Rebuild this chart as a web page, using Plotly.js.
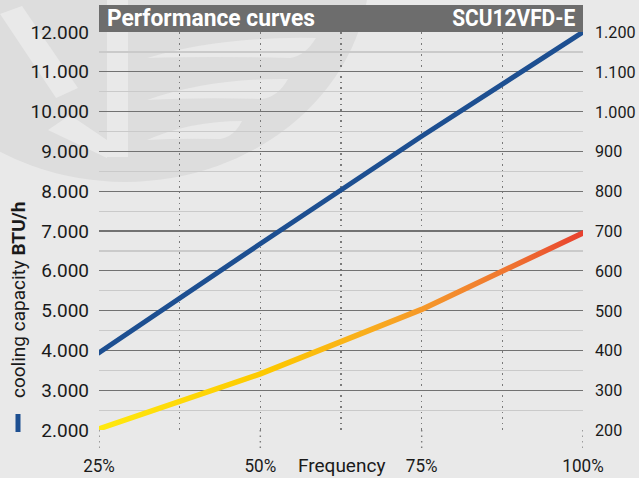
<!DOCTYPE html>
<html>
<head>
<meta charset="utf-8">
<script src="https://cdn.plot.ly/plotly-3.0.1.min.js"></script>
<style>
  html, body { margin: 0; padding: 0; background: #e9e9e9; }
  #chart { width: 639px; height: 478px; }
</style>
</head>
<body>
<div id="chart"></div>
<script>
// ---- data ----
const frequency = [25, 50, 75, 100];
const freqTickLabels = ['25%', '50%', '75%', '100%'];
const coolingCapacity = [3940, 6680, 9380, 12000];   // BTU/h (left axis)
const powerCurve = [203, 341, 503, 695];             // right axis
const leftTickVals = [2000, 3000, 4000, 5000, 6000, 7000, 8000, 9000, 10000, 11000, 12000];
const rightTickVals = [200, 300, 400, 500, 600, 700, 800, 900, 1000, 1100, 1200];
const chartTitle = 'Performance curves';
const modelName = 'SCU12VFD-E';
const xTitle = 'Frequency';
const yTitle = 'cooling capacity <b>BTU/h</b>';

// ---- layout helpers (decoration only) ----
const L = 99, R = 583, T = 32, B = 430;
const W = R - L, H = B - T;
const px = x => (x - L) / W;
const py = y => (B - y) / H;
function pathFrom(pts) {
  return pts.map((p, i) => (i ? 'L' : 'M') + px(p[0]).toFixed(4) + ',' + py(p[1]).toFixed(4)).join(' ') + ' Z';
}
function curvePath(cmds) {
  return cmds.map(c => {
    const out = [c[0]];
    for (let i = 1; i < c.length; i += 2) out.push(px(c[i]).toFixed(4) + ',' + py(c[i + 1]).toFixed(4));
    return out.join(' ');
  }).join(' ');
}

const wmDark = '#dddddd', wmLight = '#e9e9e9';
const shapes = [
  {type: 'circle', xref: 'paper', yref: 'paper', layer: 'below',
   x0: px(-120), x1: px(370), y0: py(182), y1: py(-250),
   fillcolor: wmDark, line: {width: 0}},
  {type: 'path', xref: 'paper', yref: 'paper', layer: 'below',
   path: pathFrom([[0, 14], [22, 6], [78, 88], [56, 98]]), fillcolor: wmLight, line: {width: 0}},
  {type: 'path', xref: 'paper', yref: 'paper', layer: 'below',
   path: pathFrom([[107, 0], [128, 0], [128, 157], [107, 157]]), fillcolor: wmLight, line: {width: 0}},
  {type: 'path', xref: 'paper', yref: 'paper', layer: 'below',
   path: pathFrom([[48, 130], [70, 115], [107, 140], [107, 158]]), fillcolor: wmLight, line: {width: 0}},
  {type: 'path', xref: 'paper', yref: 'paper', layer: 'below',
   path: curvePath([['M', 147, 58], ['Q', 220, 36, 316, 38], ['Q', 305, 56, 290, 58], ['Q', 210, 56, 147, 58], ['Z']]),
   fillcolor: wmLight, line: {width: 0}},
  {type: 'path', xref: 'paper', yref: 'paper', layer: 'below',
   path: curvePath([['M', 147, 100], ['Q', 210, 78, 288, 79], ['Q', 278, 97, 262, 99], ['Q', 200, 97, 147, 100], ['Z']]),
   fillcolor: wmLight, line: {width: 0}},
  {type: 'path', xref: 'paper', yref: 'paper', layer: 'below',
   path: curvePath([['M', 147, 140], ['Q', 190, 121, 242, 121], ['Q', 234, 137, 220, 139], ['Q', 180, 138, 147, 140], ['Z']]),
   fillcolor: wmLight, line: {width: 0}},
  // header bar
  {type: 'rect', xref: 'paper', yref: 'paper', layer: 'below',
   x0: 0, x1: 1, y0: py(32), y1: py(5), fillcolor: '#6d6d6d', line: {width: 0}},
  // legend-like marker next to y title
  {type: 'line', xref: 'paper', yref: 'paper', layer: 'above',
   x0: px(18), x1: px(18), y0: py(414), y1: py(432), line: {color: '#1d4f91', width: 5}}
];
frequency.forEach(f => shapes.push({
  type: 'line', xref: 'x', yref: 'paper', layer: 'below',
  x0: f, x1: f, y0: 0, y1: py(449),
  line: {color: '#7a7a7a', width: 1.4, dash: '1.5px,4px'}
}));

const tickFont = {family: 'Roboto, sans-serif', size: 19, color: '#1a1a1a'};
const rightTickFont = {family: 'Roboto, sans-serif', size: 17, color: '#1a1a1a'};
const headFont = {family: 'Roboto, sans-serif', size: 23, color: '#ffffff', weight: 'bold'};

const traces = [
  {x: frequency, y: coolingCapacity, type: 'scatter', mode: 'lines', name: 'cooling capacity',
   line: {color: '#1d4f91', width: 5}, yaxis: 'y', hoverinfo: 'skip'},
  {x: frequency, y: powerCurve, type: 'scatter', mode: 'lines', name: 'power',
   line: {color: '#f7a823', width: 5.5}, yaxis: 'y2', hoverinfo: 'skip'}
];

const layout = {
  width: 639, height: 478,
  margin: {l: L, r: 639 - R, t: T, b: 478 - B, pad: 0},
  paper_bgcolor: '#e9e9e9',
  plot_bgcolor: 'rgba(0,0,0,0)',
  separators: ',.',
  showlegend: false,
  xaxis: {
    range: [25, 100], tickmode: 'array', tickvals: frequency, ticktext: freqTickLabels,
    showgrid: true, gridcolor: '#7a7a7a', gridwidth: 1.4, griddash: '1.5px,4px',
    minor: {dtick: 12.5, tick0: 25, showgrid: true, gridcolor: '#7a7a7a', gridwidth: 1.4, griddash: '1.5px,4px'},
    zeroline: false, showline: false, ticks: '', ticklabelstandoff: 22,
    tickfont: tickFont, fixedrange: true
  },
  yaxis: {
    range: [2000, 12000], tickmode: 'array', tickvals: leftTickVals, tickformat: ',d',
    showgrid: true, gridcolor: '#727272', gridwidth: 1.2,
    minor: {dtick: 500, tick0: 2000, showgrid: true, gridcolor: '#cacaca', gridwidth: 1.2},
    zeroline: false, showline: false, ticks: '', ticklabelstandoff: 9,
    tickfont: tickFont, fixedrange: true
  },
  yaxis2: {
    range: [200, 1200], overlaying: 'y', side: 'right', tickmode: 'array', tickvals: rightTickVals,
    tickformat: ',d', showgrid: false, zeroline: false, showline: false, ticks: '',
    ticklabelstandoff: 11, tickfont: rightTickFont, fixedrange: true
  },
  shapes: shapes,
  annotations: [
    {xref: 'paper', yref: 'paper', x: px(211), y: py(18.5), xanchor: 'center', yanchor: 'middle',
     text: chartTitle, showarrow: false, font: headFont, name: 'head-left'},
    {xref: 'paper', yref: 'paper', x: px(513.5), y: py(18.5), xanchor: 'center', yanchor: 'middle',
     text: modelName, showarrow: false, font: headFont, name: 'head-right'},
    {xref: 'x', yref: 'paper', x: 62.5, y: py(465), xanchor: 'center', yanchor: 'middle',
     text: xTitle, showarrow: false, font: tickFont},
    {xref: 'paper', yref: 'paper', x: px(18), y: py(300), xanchor: 'center', yanchor: 'middle',
     text: yTitle, textangle: -90, showarrow: false, font: tickFont}
  ]
};

function squeeze(t, factorOrWidth, isWidth) {
  const w = t.getComputedTextLength();
  if (w > 0) {
    const target = isWidth ? factorOrWidth : w * factorOrWidth;
    t.setAttribute('textLength', target.toFixed(2));
    t.setAttribute('lengthAdjust', 'spacingAndGlyphs');
  }
}

Plotly.newPlot('chart', traces, layout, {staticPlot: true, displayModeBar: false}).then(gd => {
  gd.querySelectorAll('g.y2tick text').forEach(t => squeeze(t, 0.95));
  gd.querySelectorAll('g.xtick text').forEach(t => squeeze(t, 0.9));
  const ann = gd.querySelectorAll('g.annotation text.annotation-text');
  if (ann[0]) squeeze(ann[0], 208, true);
  if (ann[1]) squeeze(ann[1], 123, true);

  // colour gradient along the second curve (yellow -> orange -> red)
  const svg = gd.querySelector('svg.main-svg');
  const ns = 'http://www.w3.org/2000/svg';
  let defs = svg.querySelector('defs');
  if (!defs) { defs = document.createElementNS(ns, 'defs'); svg.insertBefore(defs, svg.firstChild); }
  const grad = document.createElementNS(ns, 'linearGradient');
  grad.setAttribute('id', 'powerGrad');
  grad.setAttribute('x1', '0'); grad.setAttribute('y1', '0');
  grad.setAttribute('x2', '1'); grad.setAttribute('y2', '0');
  [['0', '#ffe90f'], ['0.35', '#fdc800'], ['0.55', '#f9ae1c'], ['0.7', '#f4922c'], ['0.85', '#ef7431'], ['1', '#e8402e']]
    .forEach(([o, c]) => {
      const s = document.createElementNS(ns, 'stop');
      s.setAttribute('offset', o); s.setAttribute('stop-color', c);
      grad.appendChild(s);
    });
  defs.appendChild(grad);
  gd.querySelectorAll('.scatterlayer .trace').forEach((g, i) => {
    const p = g.querySelector('path.js-line');
    if (!p) return;
    p.style.strokeLinecap = 'round';
    if (i === 1) p.style.stroke = 'url(#powerGrad)';
  });
});
</script>
</body>
</html>
